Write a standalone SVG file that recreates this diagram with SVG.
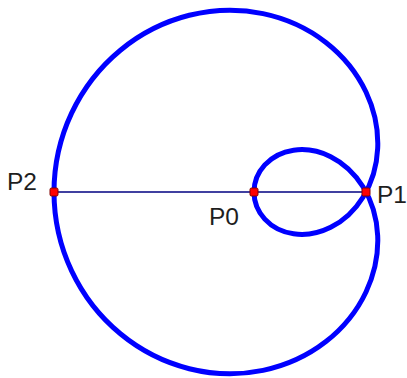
<svg xmlns="http://www.w3.org/2000/svg" width="407" height="378" viewBox="0 0 407 378">
<style>
.curve{fill:none;stroke:#0000FF;stroke-width:5;stroke-linejoin:round}
.edge{stroke:#000080;stroke-width:1.5;fill:none}
.dot{fill:#FF0000;stroke:#800000;stroke-width:1}
.lbl{font-family:"Liberation Sans",Arial,sans-serif;font-size:24.5px;fill:#1e1e1e}
</style>
<rect width="407" height="378" fill="#FFFFFF"/>
<g id="curve">
<path class="curve" d="M254,192 C254,201.774 257.802,211.525 264.794,219.118 C271.786,226.711 281.944,232.106 293.603,233.799 C305.262,235.492 318.381,233.46 330.711,227.289 C343.041,221.118 354.536,210.81 363,197.196 C371.464,183.582 376.86,166.688 377.681,148.407 C378.502,130.126 374.727,110.501 366,92 C357.273,73.499 343.597,56.17 325.917,42.407 C308.237,28.644 286.579,18.485 263,13.598 C239.421,8.711 213.96,9.118 189.289,15.289 C164.618,21.46 140.782,33.393 120.397,50.201 C100.012,67.009 83.117,88.667 71.608,113.118 C60.099,137.569 54,164.773 54,192 C54,219.227 60.099,246.431 71.608,270.882 C83.117,295.333 100.012,316.991 120.397,333.799 C140.782,350.607 164.618,362.54 189.289,368.711 C213.96,374.882 239.421,375.289 263,370.402 C286.579,365.515 308.237,355.356 325.917,341.593 C343.597,327.83 357.273,310.501 366,292 C374.727,273.499 378.502,253.874 377.681,235.593 C376.86,217.312 371.464,200.418 363,186.804 C354.536,173.19 343.041,162.882 330.711,156.711 C318.381,150.54 305.262,148.508 293.603,150.201 C281.944,151.894 271.786,157.289 264.794,164.882 C257.802,172.475 254,182.226 254,192 Z"/>
</g>
<g id="connectors">
<line class="edge" x1="54" y1="192" x2="366" y2="192"/>
</g>
<g id="P2">
<rect class="dot" x="50" y="188" width="8" height="8" rx="1.5"/>
<text class="lbl" x="7" y="190">P2</text>
</g>
<g id="P0">
<rect class="dot" x="250" y="188" width="8" height="8" rx="1.5"/>
<text class="lbl" x="209" y="225">P0</text>
</g>
<g id="P1">
<rect class="dot" x="362" y="188" width="8" height="8" rx="1.5"/>
<text class="lbl" x="377" y="203">P1</text>
</g>
</svg>
